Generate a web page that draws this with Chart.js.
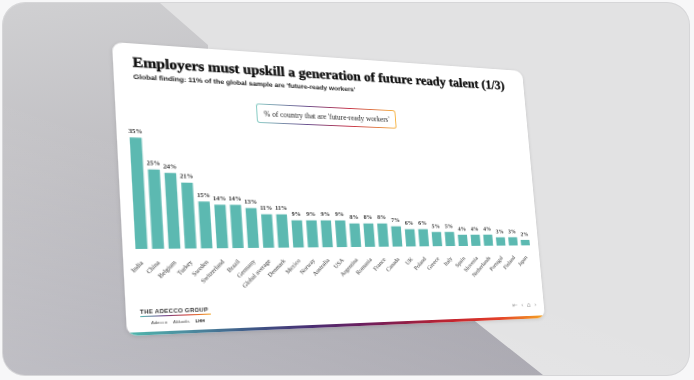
<!DOCTYPE html>
<html><head><meta charset="utf-8">
<script src="https://cdn.jsdelivr.net/npm/chart.js@4.4.1/dist/chart.umd.min.js"></script>
<style>
html,body{margin:0;padding:0;width:694px;height:380px;overflow:hidden;background:#f7f7f8;}
#frame{position:absolute;left:3px;top:3px;width:686px;height:372px;border-radius:22px;overflow:hidden;background:#e2e2e3;box-shadow:0 0 0 1px #d6d6d8;}
#shade{position:absolute;left:0;top:0;width:686px;height:372px;
  background:linear-gradient(170deg,#d0d0d2 0%,#c0bfc3 35%,#aaa9b1 75%,#a5a3ac 100%);
  clip-path:polygon(0 0,157px 0,205px 42px,205px 300px,468px 315px,540px 372px,0 372px);}
#shade2{position:absolute;left:0;top:0;width:686px;height:372px;
  background:linear-gradient(200deg,rgba(255,255,255,0) 55%,rgba(255,255,255,0.25) 100%);}
#card{position:absolute;left:0;top:0;width:420px;height:280px;background:#fff;border-radius:9px;transform-origin:0 0;overflow:hidden;box-shadow:0 1px 4px rgba(0,0,0,0.12);}
.abs{position:absolute;white-space:nowrap;transform-origin:0 0;}
#title{left:17px;top:11px;font:bold 14px "Liberation Serif",serif;color:#0d0d0d;-webkit-text-stroke:0.35px #0d0d0d;}
#subtitle{left:17px;top:29px;font:bold 6.5px "Liberation Sans",sans-serif;color:#1e1e1e;}
#legend{left:128px;top:53px;width:142px;height:20px;box-sizing:border-box;border:1.3px solid transparent;border-radius:3px;
  background:linear-gradient(#fff,#fff) padding-box,linear-gradient(90deg,#8ccfc7 0%,#6a4f8e 35%,#c43048 65%,#f7b544 100%) border-box;
  display:flex;align-items:center;justify-content:center;font:7.3px "Liberation Serif",serif;color:#1e1e1e;}
#chartwrap{position:absolute;left:0;top:60px;width:420px;height:200px;}
#brand{left:12px;top:255px;font:600 5.3px "Liberation Sans",sans-serif;color:#333;letter-spacing:0.25px;}
#brandline{position:absolute;left:12px;top:262px;width:62px;height:0.7px;background:linear-gradient(90deg,#5bbab2,#6a3f8a,#d03a30,#f5a623);}
#brands{left:21px;top:265.5px;font:4.2px "Liberation Sans",sans-serif;color:#555;word-spacing:4px;}
#nav{left:383px;top:261px;font:7px "DejaVu Sans",sans-serif;color:#9a9a9a;word-spacing:2px;}
#bottombar{position:absolute;left:0;bottom:0;width:420px;height:3.5px;
  background:linear-gradient(90deg,#4fb8ac 0%,#4d8ea0 12%,#3e5585 27%,#4a2d72 40%,#6b1f5e 52%,#8e1f48 62%,#c4242e 75%,#e3402a 87%,#f5a623 100%);}
</style></head>
<body>
<div id="frame"><div id="shade"></div><div id="shade2"></div></div>
<div id="card">
  <div id="title" class="abs">Employers must upskill a generation of future ready talent (1/3)</div>
  <div id="subtitle" class="abs">Global finding: 11% of the global sample are 'future-ready workers'</div>
  <div id="chartwrap"><canvas id="c"></canvas></div>
  <div id="legend" class="abs">% of country that are 'future-ready workers'</div>
  <div id="brand" class="abs">THE ADECCO GROUP</div>
  <div id="brandline"></div>
  <div id="brands" class="abs">Adecco Akkodis <b style="color:#222">LHH</b></div>
  <div id="nav" class="abs">⇤ ‹ ⌂ ›</div>
  <div id="bottombar"></div>
</div>
<script>
const categories = ['India','China','Belgium','Turkey','Sweden','Switzerland','Brazil','Germany','Global average','Denmark','Mexico','Norway','Australia','USA','Argentina','Romania','France','Canada','UK','Poland','Greece','Italy','Spain','Slovenia','Netherlands','Portugal','Finland','Japan'];
const values = [35,25,24,21,15,14,14,13,11,11,9,9,9,9,8,8,8,7,6,6,5,5,4,4,4,3,3,2];
const seriesName = "% of country that are 'future-ready workers'";

function fit(id, w){const el=document.getElementById(id);const s=w/el.offsetWidth;el.style.transform='scaleX('+s+')';}
fit('title',380); fit('subtitle',212);

function solve(A,b){const n=b.length;for(let i=0;i<n;i++){let m=i;for(let r=i+1;r<n;r++)if(Math.abs(A[r][i])>Math.abs(A[m][i]))m=r;[A[i],A[m]]=[A[m],A[i]];[b[i],b[m]]=[b[m],b[i]];for(let r=i+1;r<n;r++){const f=A[r][i]/A[i][i];for(let c=i;c<n;c++)A[r][c]-=f*A[i][c];b[r]-=f*b[i];}}const x=new Array(n);for(let i=n-1;i>=0;i--){let s=b[i];for(let c=i+1;c<n;c++)s-=A[i][c]*x[c];x[i]=s/A[i][i];}return x;}
function homog(src,dst){const A=[],b=[];for(let i=0;i<4;i++){const [x,y]=src[i],[X,Y]=dst[i];A.push([x,y,1,0,0,0,-x*X,-y*X]);b.push(X);A.push([0,0,0,x,y,1,-x*Y,-y*Y]);b.push(Y);}const h=solve(A,b);return [h[0],h[3],0,h[6],h[1],h[4],0,h[7],0,0,1,0,h[2],h[5],0,1];}
const W=420,H=280;
const m=homog([[0,0],[W,0],[W,H],[0,H]],[[112,42],[522,71],[545,318],[127,336]]);
document.getElementById('card').style.transform='matrix3d('+m.join(',')+')';

const valueLabels={id:'valueLabels',afterDatasetsDraw(chart){const ctx=chart.ctx;const meta=chart.getDatasetMeta(0);ctx.save();ctx.font='bold 6px "Liberation Serif"';ctx.fillStyle='#2e2e2e';ctx.textAlign='center';ctx.textBaseline='bottom';meta.data.forEach((bar,i)=>{ctx.fillText(values[i]+'%',bar.x,bar.y-3);});ctx.restore();}};

new Chart(document.getElementById('c'),{
  type:'bar',
  data:{labels:categories,datasets:[{label:seriesName,data:values,backgroundColor:'#5cb9b1',borderWidth:0,barPercentage:0.72,categoryPercentage:1}]},
  options:{responsive:true,maintainAspectRatio:false,animation:false,devicePixelRatio:2,
    layout:{padding:{top:17,left:9,right:8,bottom:0}},
    plugins:{legend:{display:false},tooltip:{enabled:false}},
    scales:{
      y:{display:false,min:0,max:40},
      x:{grid:{display:false},border:{display:false},
         ticks:{autoSkip:false,minRotation:45,maxRotation:45,padding:2,color:'#2a2a2a',font:{family:'Liberation Serif',size:6}},
         afterFit:(s)=>{s.height=61;}}
    }},
  plugins:[valueLabels]
});
</script>
</body></html>
